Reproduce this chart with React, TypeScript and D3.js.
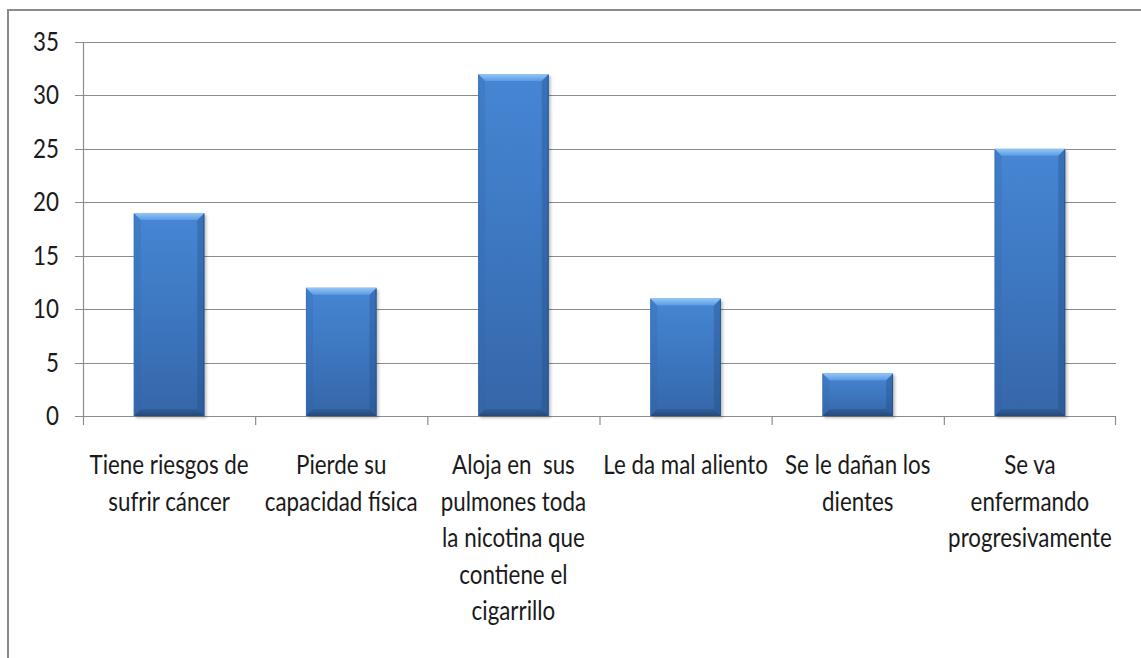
import React from "react";
import * as d3 from "d3";

// Survey answers: what happens to a person who smokes
const categoryLines: string[][] = [
  ["Tiene riesgos de", "sufrir cáncer"],
  ["Pierde su", "capacidad física"],
  ["Aloja en  sus", "pulmones toda", "la nicotina que", "contiene el", "cigarrillo"],
  ["Le da mal aliento"],
  ["Se le dañan los", "dientes"],
  ["Se va", "enfermando", "progresivamente"],
];
const categories: string[] = categoryLines.map((l) => l.join(" "));
const values: number[] = [19, 12, 32, 11, 4, 25];
const yTicks: number[] = [0, 5, 10, 15, 20, 25, 30, 35];

const W = 1141;
const H = 658;
const left = 83;
const right = 1116;
const top = 42;
const bottom = 416;
const FONT = "Lato, 'Open Sans', sans-serif";
const SX = 0.86;
const FS = 26;

export default function App() {
  const x = d3.scaleBand<string>().domain(categories).range([left, right]).padding(0);
  const y = d3.scaleLinear().domain([0, 35]).range([bottom, top]);
  const barW = x.step() * 0.41;
  const b = 7;

  return (
    <svg
      width={W}
      height={H}
      style={{ position: "absolute", left: 0, top: 0, background: "#fff" }}
    >
      <defs>
        <linearGradient id="body" x1="0" y1="0" x2="0" y2="1">
          <stop offset="0" stopColor="#4686d4" />
          <stop offset="0.5" stopColor="#3d77c0" />
          <stop offset="1" stopColor="#3566a8" />
        </linearGradient>
        <linearGradient id="topBevel" x1="0" y1="0" x2="0" y2="1">
          <stop offset="0" stopColor="#93c6f6" />
          <stop offset="1" stopColor="#5c9ae2" />
        </linearGradient>
        <linearGradient id="bottomBevel" x1="0" y1="0" x2="0" y2="1">
          <stop offset="0" stopColor="#2f5c96" />
          <stop offset="1" stopColor="#1f426f" />
        </linearGradient>
        <filter id="shadow" x="-20%" y="-20%" width="140%" height="140%">
          <feGaussianBlur stdDeviation="1.8" />
        </filter>
      </defs>

      {/* chart frame */}
      <rect x={8} y={10} width={1200} height={700} fill="none" stroke="#8a8a8a" strokeWidth={2} />

      {/* gridlines and y ticks */}
      {yTicks.map((t) => (
        <g key={t}>
          <line x1={75} x2={right} y1={Math.round(y(t)) + 0.5} y2={Math.round(y(t)) + 0.5} stroke="#8c8c8c" strokeWidth={1.2} />
          <g transform={`translate(59,${y(t) + 9}) scale(${SX},1)`}>
            <text textAnchor="end" fontFamily={FONT} fontSize={FS} fill="#1a1a1a">
              {t}
            </text>
          </g>
        </g>
      ))}

      {/* axes */}
      <line x1={left + 0.5} x2={left + 0.5} y1={top} y2={bottom} stroke="#8c8c8c" strokeWidth={1.2} />
      {categories.map((c) => (
        <line key={c} x1={x(c)! + 0.5} x2={x(c)! + 0.5} y1={bottom} y2={bottom + 9} stroke="#8c8c8c" strokeWidth={1.2} />
      ))}
      <line x1={right - 0.5} x2={right - 0.5} y1={bottom} y2={bottom + 9} stroke="#8c8c8c" strokeWidth={1.2} />

      {/* bars with bevel */}
      {categories.map((c, i) => {
        const cx = x(c)! + x.bandwidth() / 2;
        const x0 = cx - barW / 2;
        const x1 = cx + barW / 2;
        const yT = y(values[i]);
        const yB = y(0);
        return (
          <g key={c}>
            <rect x={x0 + 2} y={yT + 2} width={barW} height={yB - yT} fill="#000" opacity={0.25} filter="url(#shadow)" />
            <rect x={x0} y={yT} width={barW} height={yB - yT} fill="url(#body)" />
            <polygon points={`${x0},${yT} ${x0 + b},${yT + b} ${x0 + b},${yB - b} ${x0},${yB}`} fill="#2f63a8" opacity={0.25} />
            <polygon points={`${x1},${yT} ${x1 - b},${yT + b} ${x1 - b},${yB - b} ${x1},${yB}`} fill="#1d4478" opacity={0.3} />
            <polygon points={`${x0},${yB} ${x0 + b},${yB - b} ${x1 - b},${yB - b} ${x1},${yB}`} fill="url(#bottomBevel)" opacity={0.8} />
            <polygon points={`${x0},${yT} ${x1},${yT} ${x1 - b},${yT + b} ${x0 + b},${yT + b}`} fill="url(#topBevel)" />
            <line x1={x1 - 0.5} x2={x1 - 0.5} y1={yT + 1} y2={yB} stroke="#24508a" strokeWidth={1} opacity={0.8} />
            <line x1={x0 + 0.5} x2={x0 + 0.5} y1={yT + 1} y2={yB} stroke="#3a6fb0" strokeWidth={1} opacity={0.7} />
          </g>
        );
      })}

      {/* category labels */}
      {categories.map((c, i) => {
        const cx = x(c)! + x.bandwidth() / 2;
        return categoryLines[i].map((line, j) => (
          <g key={c + j} transform={`translate(${cx},${474 + j * 36.5}) scale(${SX},1)`}>
            <text textAnchor="middle" fontFamily={FONT} fontSize={FS} fill="#1a1a1a" style={{ whiteSpace: "pre" }}>
              {line}
            </text>
          </g>
        ));
      })}
    </svg>
  );
}
